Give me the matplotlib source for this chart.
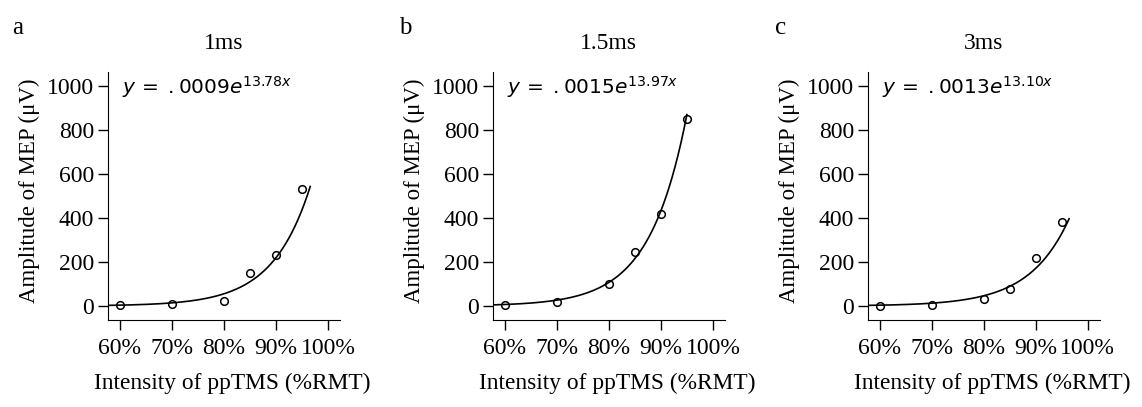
import numpy as np
import matplotlib.pyplot as plt

plt.rcParams['font.family'] = ['Liberation Serif', 'DejaVu Serif']
plt.rcParams['mathtext.fontset'] = 'dejavusans'

# stimulation intensity (fraction of RMT)
intensity = [0.60, 0.70, 0.80, 0.85, 0.90, 0.95]

# MEP amplitude (uV) per ISI
mep_1ms = [2, 8, 22, 152, 232, 530]
mep_15ms = [3, 20, 99, 244, 418, 850]
mep_3ms = [1, 6, 30, 79, 218, 380]

# fitted exponentials shown in the panels: y = a * exp(b * x)
fit_a = [0.0009, 0.0015, 0.0013]
fit_b = [13.78, 13.97, 13.10]
fit_end = [0.966, 0.95, 0.964]
fit_labels = ['.0009', '.0015', '.0013']
fit_exps = ['13.78', '13.97', '13.10']

titles = ['1ms', '1.5ms', '3ms']
letters = ['a', 'b', 'c']
xticks = [0.6, 0.7, 0.8, 0.9, 1.0]
xticklabels = ['60%', '70%', '80%', '90%', '100%']
yticks = [0, 200, 400, 600, 800, 1000]

fig = plt.figure(figsize=(11.42, 4.07), dpi=100)
lefts = [0.0946, 0.4317, 0.760]
letter_x = [0.011, 0.349, 0.679]
series = [mep_1ms, mep_15ms, mep_3ms]
fs = 17

for i in range(3):
    ax = fig.add_axes([lefts[i], 0.2138, 0.203, 0.609])
    xs = np.linspace(0.577, fit_end[i], 200)
    ax.plot(xs, fit_a[i]*np.exp(fit_b[i]*xs), color='black', lw=1.2)
    ax.plot(intensity, series[i], 'o', mfc='none', mec='black', ms=5.5, mew=1.1)
    ax.set_xlim(0.577, 1.023)
    ax.set_ylim(-64, 1064)
    ax.set_xticks(xticks)
    ax.set_xticklabels(xticklabels)
    ax.set_yticks(yticks)
    ax.spines['top'].set_visible(False)
    ax.spines['right'].set_visible(False)
    ax.tick_params(direction='out', length=7, width=1.0, labelsize=fs)
    ax.tick_params(axis='y', pad=3)
    ax.tick_params(axis='x', pad=6)
    ax.set_ylabel('Amplitude of MEP (μV)', fontsize=16.5, labelpad=5, y=0.52)
    ax.set_xlabel('Intensity of ppTMS (%RMT)', fontsize=16.8, labelpad=10, x=0.536)
    ax.set_title(titles[i], fontsize=fs, pad=17)
    ax.text(0.06, 0.99, r'$y\,=\;%s e^{%sx}$' % (fit_labels[i], fit_exps[i]),
            transform=ax.transAxes, fontsize=14.5, va='top', ha='left')
    fig.text(letter_x[i], 0.932, letters[i], fontsize=18, va='center')

fig.savefig('out.png', dpi=100)
